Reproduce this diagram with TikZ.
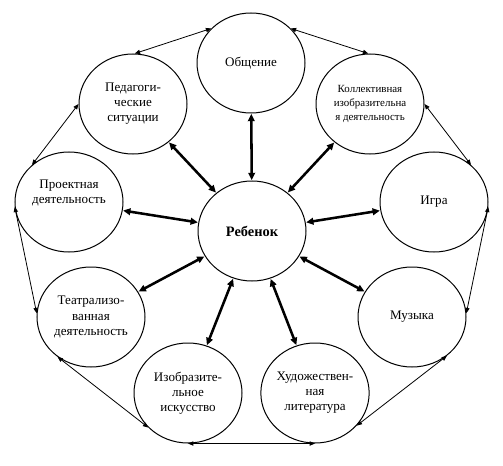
\documentclass[tikz,border=0pt]{standalone}
\usepackage{fontspec}
\setmainfont{Liberation Serif}
\usetikzlibrary{shapes.geometric,arrows.meta}
\begin{document}
\begin{tikzpicture}[x=0.75pt,y=0.75pt,
  circ/.style={ellipse,draw,line width=0.75pt,minimum width=81pt,minimum height=75pt,inner sep=0pt,align=center,font=\fontsize{9.8}{11.3}\selectfont},
  bigarr/.style={line width=1.9pt,{Triangle[length=5.5pt,width=5pt]}-{Triangle[length=5.5pt,width=5pt]},shorten <=0.3pt,shorten >=0.3pt},
  smallarr/.style={line width=0.6pt,{Triangle[length=4pt,width=3.2pt]}-{Triangle[length=4pt,width=3.2pt]}}]
\useasboundingbox (0,0) rectangle (503,465);
\fill[white] (0,0) rectangle (503,465);
\node[circ] (ob) at (251,402) {Общение};
\node[circ] (ped) at (133,361) {Педагоги-\\ческие\\ситуации};
\node[circ,font=\fontsize{8.2}{10.5}\selectfont] (kol) at (370,361) {Коллективная\\изобразительна\\я деятельность};
\node[circ] (pro) at (69,263) {Проектная\\деятельность\\[4pt]};
\node[circ,font=\fontsize{10.8}{12}\selectfont\bfseries] (reb) at (252,234) {Ребенок};
\node[circ] (igr) at (434,263) {Игра};
\node[circ] (tea) at (91,148) {Театрализо-\\ванная\\деятельность};
\node[circ] (muz) at (412,148) {Музыка};
\node[circ] (izo) at (188,72) {Изобразите-\\льное\\искусство};
\node[circ] (hud) at (315,72) {Художествен-\\ная\\литература};
% inner arrows
\foreach \n in {ob,ped,kol,pro,igr,tea,muz,izo,hud}
  \draw[bigarr] (reb) -- (\n);
% outer arrows
\draw[smallarr] (ob.139.5) -- (ped.88);
\draw[smallarr] (ob.41.4) -- (kol.92);
\draw[smallarr] (ped.180) -- (pro.135);
\draw[smallarr] (kol.0) -- (igr.45);
\draw[smallarr] (pro.185) -- (tea.176);
\draw[smallarr] (igr.355) -- (muz.4);
\draw[smallarr] (tea.230) -- (izo.221);
\draw[smallarr] (muz.312) -- (hud.322);
\draw[smallarr] (izo.270) -- (hud.270);
\end{tikzpicture}
\end{document}
